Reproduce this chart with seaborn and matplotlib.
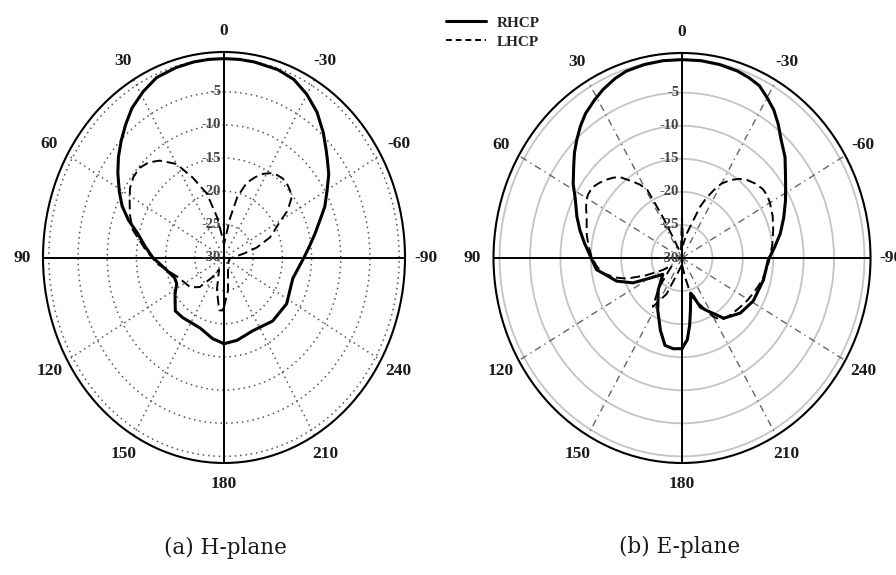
import numpy as np
import matplotlib
matplotlib.use("Agg")
import matplotlib.pyplot as plt
import matplotlib.transforms as mtransforms
from matplotlib.lines import Line2D
import seaborn as sns

# ---------------- data (angles in degrees, CCW from top; gain in dB) ----------------
H_RHCP_DEG = [-180, -170, -156, -139, -123, -105, -90, -83, -77, -71, -66, -60, -55, -50, -47, -42, -36, -30, -24, -18, -10, -5, 0,
              5, 10, 16, 23, 29, 35, 40, 45, 50, 55, 61, 66, 71, 76, 83, 90, 101, 110, 116, 123, 134, 142, 159, 171, 180]
H_RHCP_DB = [-17, -17.3, -17.9, -17.3, -17.2, -17.8, -16.3, -15.2, -14, -12.6, -11.1, -9.6, -8.1, -6.9, -6.1, -4.6, -2.9, -1.6, -0.6, -0.2, -0.05, 0, 0,
             0, -0.05, -0.2, -0.5, -1.4, -2.5, -3.8, -5.1, -6.4, -7.8, -9.5, -10.9, -12.7, -14.7, -16.4, -17.8, -20, -21, -21, -20, -18.4, -18.5, -18.6, -17.6, -17]

H_LHCP_DEG = [-180, -172, -160, -130, -100, -90, -80, -75, -69, -65, -61, -57, -52, -48, -44, -40, -36, -32, -28, -24, -19, -14, -10, -5, 0,
              5, 11, 17, 24, 30, 37, 42, 47, 52, 57, 62, 68, 75, 85, 95, 110, 128, 137, 146, 155, 166, 174, 178, 180]
H_LHCP_DB = [-22.5, -25, -28, -29, -29, -28.5, -26.5, -24.2, -21.6, -20.5, -19.2, -17, -15.3, -14.8, -14.5, -14.4, -14.6, -15.0, -15.7, -16.7, -18.1, -20.6, -23.9, -27, -28,
             -27, -23.8, -19.9, -16.8, -13.7, -11.7, -10.7, -10.2, -10.3, -10.8, -11.7, -12.6, -13.8, -16.5, -18.6, -21.5, -22.7, -23.9, -26.4, -28, -25, -22, -22, -22.5]

E_RHCP_DEG = [-180, -176, -173, -170, -165, -162, -158, -153, -143, -131, -119, -104, -91, -84, -77, -70, -63, -58, -53, -48, -42, -38, -34, -30, -26, -22, -18, -12, -6, 0,
              6, 12, 18, 22, 27, 31, 36, 40, 44, 48, 52, 58, 63, 70, 76, 82, 88, 97, 108, 115, 120, 128, 141, 153, 162, 168, 174, 180]
E_RHCP_DB = [-16.3, -17.6, -19.7, -22, -24.5, -23.9, -22, -21.1, -18.6, -17.3, -16.6, -16.2, -15.8, -14.7, -13.4, -12.2, -10.9, -9.9, -8.7, -7.2, -5.7, -4.3, -3.0, -2.0, -1.0, -0.6, -0.3, -0.1, 0, 0,
             0, -0.1, -0.3, -0.7, -1.4, -2.1, -3.0, -4.0, -5.1, -6.2, -7.4, -8.9, -10.3, -11.6, -12.7, -13.8, -14.8, -15.8, -18.7, -21.1, -23.9, -26, -23.8, -21.2, -18.5, -16.5, -16.2, -16.3]

E_LHCP_DEG = [-180, -170, -165, -154, -150, -146, -141, -135, -128, -121, -114, -108, -102, -96, -89, -82, -74, -67, -60, -56, -52, -47, -42, -38, -34,
              -30, -27, -24, -21, -12, -5, 0,
              4, 10, 20, 25, 27, 29, 32, 35, 40, 43, 46, 50, 54, 58, 61, 65, 68, 73, 78, 84, 89, 95, 100, 105, 109, 114, 120, 125, 132, 140, 147, 155, 165, 180]
E_LHCP_DB = [-29, -27, -24, -21.3, -19.8, -18.7, -18.4, -18.2, -17.9, -17.5, -17.1, -16.7, -16.3, -15.9, -15.5, -15.0, -14.4, -13.8, -13.3, -13.1, -13.1, -13.5, -14.1, -14.8, -15.8,
             -17, -18.5, -20, -21.7, -26.2, -28, -23.8,
             -28, -29, -29, -27, -23, -18.2, -16.9, -15.9, -14.0, -13.4, -12.9, -12.3, -11.8, -11.8, -12.0, -12.6, -13.1, -13.6, -14.0, -14.6, -15.1, -15.9, -16.8, -18.6, -20.4, -23.6, -26.4, -28, -27, -24, -21.2, -24, -28, -29]

THETA_TICKS_DEG = [0, 30, 60, 90, 120, 150, 180, 210, 240, 270, 300, 330]
THETA_TICK_LABELS = ["0", "30", "60", "90", "120", "150", "180", "210", "240", "-90", "-60", "-30"]
R_RINGS = [-25, -20, -15, -10, -5, 0]
R_LABEL_VALUES = [-30, -25, -20, -15, -10, -5]
R_MIN, R_MAX = -30, 1
SERIES_NAMES = ["RHCP", "LHCP"]
CAPTIONS = ["(a) H-plane", "(b) E-plane"]

# ---------------- style ----------------
sns.set_style("white")
plt.rcParams["font.family"] = ["Liberation Serif", "DejaVu Serif"]

fig = plt.figure(figsize=(8.96, 5.75), dpi=100)

def panel(rect, rh_deg, rh_db, lh_deg, lh_db, ring_kw, spoke_kw):
    ax = fig.add_axes(rect, projection="polar")
    ax.set_aspect("auto")
    ax.set_theta_zero_location("N")
    ax.set_theta_direction(1)
    ax.set_ylim(R_MIN, R_MAX)
    ax.set_yticks(R_RINGS)
    ax.set_yticklabels([])
    ax.set_xticks(np.deg2rad(THETA_TICKS_DEG))
    ax.set_xticklabels(THETA_TICK_LABELS, fontsize=12.5, fontweight="bold", color="#1a1a1a")
    ax.tick_params(axis="x", pad=8, length=0)
    ax.xaxis.grid(False)
    ax.yaxis.grid(True, **ring_kw)
    for d in THETA_TICKS_DEG:
        if d % 90 == 0:
            ax.axvline(np.deg2rad(d), color="black", lw=1.4, zorder=2)
        else:
            ax.axvline(np.deg2rad(d), zorder=1, **spoke_kw)
    ax.spines["polar"].set_linewidth(1.5)
    ax.spines["polar"].set_color("black")
    off = mtransforms.offset_copy(ax.transData, fig=fig, x=-2, y=0, units="points")
    for v in R_LABEL_VALUES:
        ax.text(0, v, str(v), transform=off, ha="right", va="center",
                fontsize=10.5, fontweight="bold", color="#444444", zorder=3)
    sns.lineplot(x=np.deg2rad(rh_deg), y=rh_db, ax=ax, color="black", linewidth=2.2,
                 sort=False, estimator=None, zorder=5)
    sns.lineplot(x=np.deg2rad(lh_deg), y=lh_db, ax=ax, color="black", linewidth=1.4,
                 linestyle=(0, (5, 2.5)), sort=False, estimator=None, zorder=4)
    ax.set_xlabel("")
    ax.set_ylabel("")
    return ax

left_rect = [(224 - 181) / 896, 1 - 463 / 575, 362 / 896, 411 / 575]
right_rect = [(682 - 188.5) / 896, 1 - 463 / 575, 377 / 896, 410 / 575]

ax1 = panel(left_rect, H_RHCP_DEG, H_RHCP_DB, H_LHCP_DEG, H_LHCP_DB,
            dict(color="#555555", linestyle=(0, (1, 2.5)), linewidth=1.1),
            dict(color="#555555", linestyle=(0, (1, 2.5)), linewidth=1.1))
ax2 = panel(right_rect, E_RHCP_DEG, E_RHCP_DB, E_LHCP_DEG, E_LHCP_DB,
            dict(color="#c4c4c4", linestyle="-", linewidth=1.3),
            dict(color="#666666", linestyle=(0, (5, 3, 1, 3)), linewidth=1.0))

handles = [Line2D([], [], color="black", lw=2.2),
           Line2D([], [], color="black", lw=1.4, linestyle=(0, (3, 2)))]
fig.legend(handles, SERIES_NAMES, loc="upper left", bbox_to_anchor=(446 / 896, 1 - 16 / 575),
           frameon=False, prop=dict(family="Liberation Serif", weight="bold", size=11),
           handlelength=2.6, handletextpad=0.7, labelspacing=0.35, borderpad=0, borderaxespad=0)

fig.text(225 / 896, 1 - 548 / 575, CAPTIONS[0], ha="center", va="center", fontsize=15.5,
         family="DejaVu Serif", color="#1a1a1a")
fig.text(680 / 896, 1 - 547 / 575, CAPTIONS[1], ha="center", va="center", fontsize=15.5,
         family="DejaVu Serif", color="#1a1a1a")

fig.savefig("out.png", dpi=100)
